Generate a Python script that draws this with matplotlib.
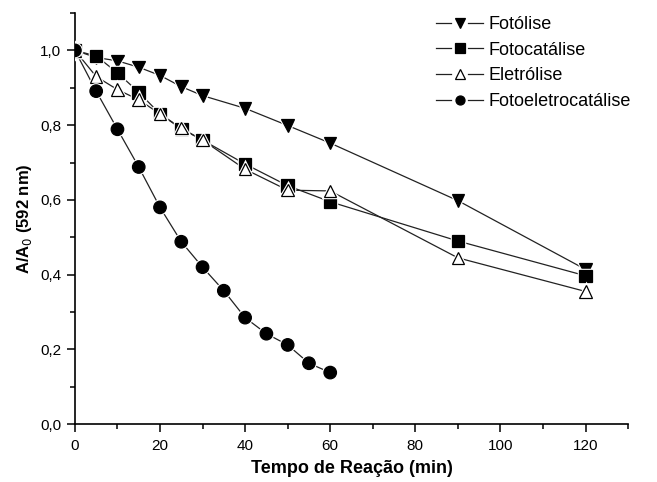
import matplotlib
matplotlib.use("Agg")
import matplotlib.pyplot as plt
import matplotlib.patheffects as pe
from matplotlib.lines import Line2D
from matplotlib.legend_handler import HandlerBase
from matplotlib.ticker import MultipleLocator, FuncFormatter

plt.rcParams['font.family'] = ['Liberation Sans', 'DejaVu Sans']

# tempo de reacao (min)
t_long = [0, 5, 10, 15, 20, 25, 30, 40, 50, 60, 90, 120]
t_foto_eletro = [0, 5, 10, 15, 20, 25, 30, 35, 40, 45, 50, 55, 60]

# A/A0 (592 nm)
fotolise = [1.0, 0.981, 0.972, 0.955, 0.933, 0.903, 0.879, 0.845, 0.799, 0.752, 0.598, 0.414]
fotocatalise = [1.0, 0.985, 0.940, 0.888, 0.830, 0.790, 0.760, 0.696, 0.638, 0.595, 0.490, 0.397]
eletrolise = [1.0, 0.930, 0.895, 0.868, 0.830, 0.792, 0.760, 0.682, 0.626, 0.624, 0.445, 0.355]
fotoeletrocatalise = [1.0, 0.891, 0.789, 0.688, 0.580, 0.488, 0.420, 0.357, 0.285, 0.242, 0.212, 0.163, 0.138]

series = [
    (t_long, fotolise, 'v', 'black', 'Fotólise'),
    (t_long, fotocatalise, 's', 'black', 'Fotocatálise'),
    (t_long, eletrolise, '^', 'white', 'Eletrólise'),
    (t_foto_eletro, fotoeletrocatalise, 'o', 'black', 'Fotoeletrocatálise'),
]


class GapHandler(HandlerBase):
    # legend entry: line - marker - line, with a gap either side of the marker
    def create_artists(self, legend, orig, xdescent, ydescent, width, height,
                       fontsize, trans):
        y = height / 2 - ydescent
        x0 = -xdescent
        xm = x0 + width / 2
        gap = 6
        kw = dict(color=orig.get_color(), lw=orig.get_linewidth(), transform=trans)
        left = Line2D([x0, xm - gap], [y, y], **kw)
        right = Line2D([xm + gap, x0 + width], [y, y], **kw)
        mk = Line2D([xm], [y], ls='none', marker=orig.get_marker(),
                    ms=orig.get_markersize(), mfc=orig.get_markerfacecolor(),
                    mec=orig.get_markeredgecolor(), mew=orig.get_markeredgewidth(),
                    transform=trans)
        return [left, right, mk]


fig = plt.figure(figsize=(6.57, 4.82), dpi=100)
ax = fig.add_axes([0.114, 0.120, 0.842, 0.853])

# white ring round each marker so the joining lines stop short of it
halo = [pe.withStroke(linewidth=2.5, foreground='white')]
handles = []
for x, y, m, fc, name in series:
    ax.plot(x, y, '-', color='#222222', lw=0.9, zorder=2)
    ax.plot(x, y, ls='none', marker=m, ms=9, mfc=fc, mec='black', mew=0.9,
            path_effects=halo, zorder=3)
    h, = ax.plot([], [], '-', color='#222222', lw=0.9, marker=m, ms=6.5,
                 mfc=fc, mec='black', mew=0.9, label=name)
    handles.append(h)

ax.set_xlim(0, 130)
ax.set_ylim(0, 1.1)
ax.xaxis.set_major_locator(MultipleLocator(20))
ax.xaxis.set_minor_locator(MultipleLocator(10))
ax.yaxis.set_major_locator(MultipleLocator(0.2))
ax.yaxis.set_minor_locator(MultipleLocator(0.1))
ax.yaxis.set_major_formatter(FuncFormatter(lambda v, p: f"{v:.1f}".replace('.', ',')))

for s in ['top', 'right']:
    ax.spines[s].set_visible(False)
for s in ['left', 'bottom']:
    ax.spines[s].set_linewidth(1.2)
ax.tick_params(which='major', direction='out', length=6, width=1.1, labelsize=11, colors='black')
ax.tick_params(which='minor', direction='out', length=3.5, width=1.1)
ax.tick_params(axis='x', pad=5)
ax.tick_params(axis='y', pad=4)

ax.set_xlabel('Tempo de Reação (min)', fontsize=13, fontweight='bold', labelpad=5)
ax.set_ylabel('A/A$_0$ (592 nm)', fontsize=12, fontweight='bold', labelpad=4)

ax.legend(handles=handles, handler_map={Line2D: GapHandler()},
          loc='upper right', bbox_to_anchor=(1.018, 1.01), frameon=False,
          fontsize=13, handlelength=2.6, handletextpad=0.3, labelspacing=0.48,
          borderaxespad=0)

fig.savefig('out.png', dpi=100)
